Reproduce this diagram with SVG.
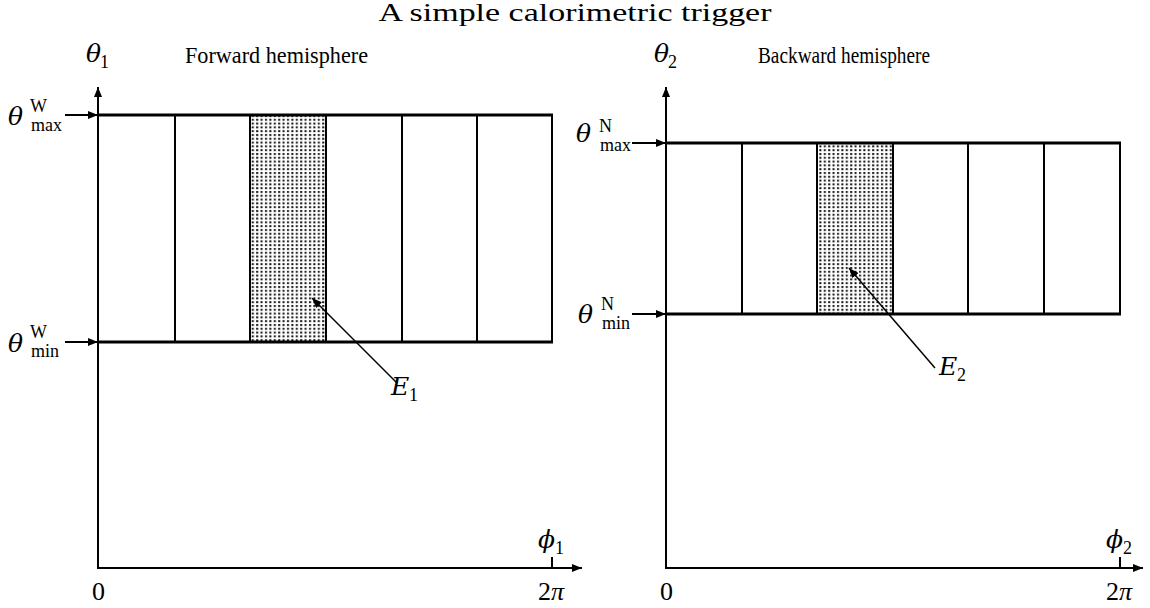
<svg xmlns="http://www.w3.org/2000/svg" width="1150" height="608" viewBox="0 0 1150 608">
<style>
text{font-family:"DejaVu Serif","Liberation Serif",serif;fill:#000}
.t{font-size:26px;font-family:"Liberation Serif","DejaVu Serif",serif}
.h{font-size:24px;font-family:"Liberation Serif","DejaVu Serif",serif}
.m{font-size:25px;font-style:italic}
.n{font-size:26px;font-family:"Liberation Serif","DejaVu Serif",serif}
.sup{font-size:18px;font-family:"Liberation Serif","DejaVu Serif",serif}
.sub{font-size:18px;font-family:"Liberation Serif","DejaVu Serif",serif}
.ax{stroke:#000;stroke-width:2;fill:none}
.hl{stroke:#000;stroke-width:3;fill:none}
.vl{stroke:#000;stroke-width:2;fill:none}
.ld{stroke:#000;stroke-width:1.5;fill:none}
</style>
<defs>
<marker id="ah" viewBox="0 0 10 8" refX="10" refY="4" markerWidth="10" markerHeight="8" markerUnits="userSpaceOnUse" orient="auto">
<path d="M0,0 L10,4 L0,8 Z" fill="#000"/>
</marker>
<pattern id="dots" width="4.4" height="3.8" patternUnits="userSpaceOnUse">
<rect x="1" y="1" width="2" height="2" fill="#111"/>
</pattern>
</defs>
<rect width="1150" height="608" fill="#fff"/>
<text class="t" x="575" y="21" text-anchor="middle" textLength="393" lengthAdjust="spacingAndGlyphs">A simple calorimetric trigger</text>

<g id="forward">
<rect x="250" y="115" width="76" height="227" fill="url(#dots)"/>
<line class="hl" x1="98" y1="115" x2="553" y2="115"/>
<line class="hl" x1="98" y1="342" x2="553" y2="342"/>
<line class="vl" x1="175" y1="115" x2="175" y2="342"/>
<line class="vl" x1="250" y1="115" x2="250" y2="342"/>
<line class="vl" x1="326" y1="115" x2="326" y2="342"/>
<line class="vl" x1="402" y1="115" x2="402" y2="342"/>
<line class="vl" x1="477" y1="115" x2="477" y2="342" stroke-width="3"/>
<line class="vl" x1="552" y1="115" x2="552" y2="342"/>
<line class="vl" x1="552" y1="557" x2="552" y2="568"/>
<text class="h" x="185" y="63" textLength="183" lengthAdjust="spacingAndGlyphs">Forward hemisphere</text>
<text class="m" x="86" y="62">θ</text><text class="sub" x="100" y="68">1</text>
<text class="m" x="538" y="548">ϕ</text><text class="sub" x="555" y="554">1</text>
<text class="n" x="92" y="600">0</text>
<text class="n" x="538" y="600">2<tspan font-style="italic">π</tspan></text>
<text class="m" x="8" y="125" font-size="30">θ</text><text class="sup" x="30" y="112">W</text><text class="sub" x="31" y="131">max</text>
<text class="m" x="8" y="352" font-size="30">θ</text><text class="sup" x="30" y="338">W</text><text class="sub" x="31" y="357">min</text>
<text class="m" x="391" y="395" font-size="26">E</text><text class="sub" x="409" y="401">1</text>
</g>

<g id="backward">
<rect x="817" y="143" width="76" height="171" fill="url(#dots)"/>
<line class="hl" x1="666" y1="143" x2="1121" y2="143"/>
<line class="hl" x1="666" y1="314" x2="1121" y2="314"/>
<line class="vl" x1="742" y1="143" x2="742" y2="314"/>
<line class="vl" x1="817" y1="143" x2="817" y2="314"/>
<line class="vl" x1="893" y1="143" x2="893" y2="314"/>
<line class="vl" x1="968" y1="143" x2="968" y2="314"/>
<line class="vl" x1="1044" y1="143" x2="1044" y2="314" stroke-width="3"/>
<line class="vl" x1="1120" y1="143" x2="1120" y2="314"/>
<line class="vl" x1="1120" y1="557" x2="1120" y2="568"/>
<text class="h" x="758" y="63" textLength="172" lengthAdjust="spacingAndGlyphs">Backward hemisphere</text>
<text class="m" x="654" y="62">θ</text><text class="sub" x="668" y="68">2</text>
<text class="m" x="1106" y="548">ϕ</text><text class="sub" x="1123" y="554">2</text>
<text class="n" x="660" y="600">0</text>
<text class="n" x="1106" y="600">2<tspan font-style="italic">π</tspan></text>
<text class="m" x="576" y="142" font-size="30">θ</text><text class="sup" x="599" y="132">N</text><text class="sub" x="600" y="151">max</text>
<text class="m" x="578" y="323" font-size="30">θ</text><text class="sup" x="601" y="310">N</text><text class="sub" x="602" y="329">min</text>
<text class="m" x="939" y="375" font-size="26">E</text><text class="sub" x="957" y="381">2</text>
</g>

<g id="connectors">
<line class="ax" x1="98" y1="568" x2="98" y2="87" marker-end="url(#ah)"/>
<line class="ax" x1="97" y1="568" x2="582" y2="568" marker-end="url(#ah)"/>
<line class="ax" x1="666" y1="568" x2="666" y2="87" marker-end="url(#ah)"/>
<line class="ax" x1="665" y1="568" x2="1143" y2="568" marker-end="url(#ah)"/>
<line class="ax" x1="65" y1="115" x2="98" y2="115" marker-end="url(#ah)"/>
<line class="ax" x1="65" y1="342" x2="98" y2="342" marker-end="url(#ah)"/>
<line class="ax" x1="632" y1="143" x2="666" y2="143" marker-end="url(#ah)"/>
<line class="ax" x1="632" y1="314" x2="666" y2="314" marker-end="url(#ah)"/>
<line class="ld" x1="397" y1="383" x2="312" y2="298" marker-end="url(#ah)"/>
<line class="ld" x1="935" y1="368" x2="849" y2="268" marker-end="url(#ah)"/>
</g>
</svg>
